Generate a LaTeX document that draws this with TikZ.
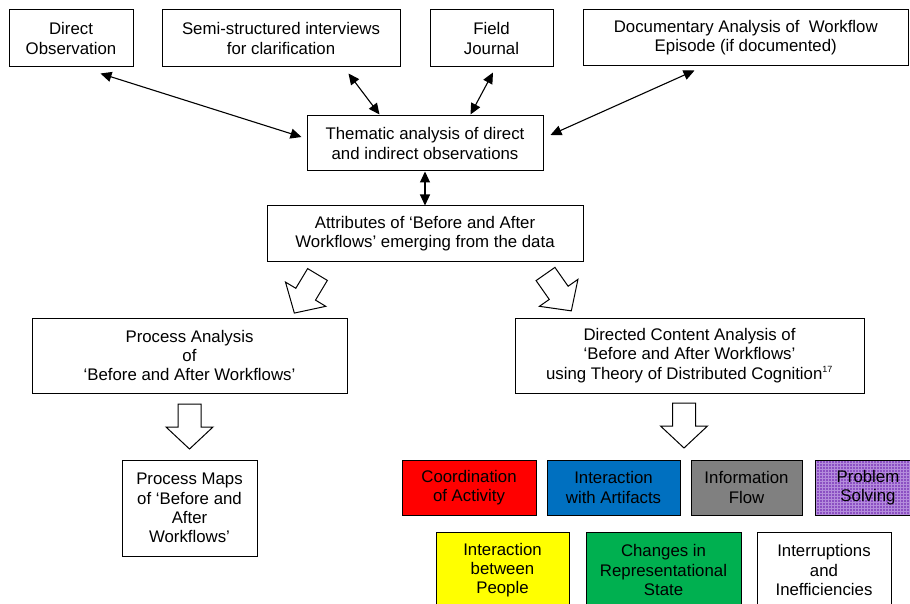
\documentclass[tikz,border=0pt]{standalone}
\usepackage{fontspec}
\setmainfont{Liberation Sans}
\usetikzlibrary{arrows.meta,calc,patterns}
\definecolor{cred}{RGB}{255,0,0}
\definecolor{cblue}{RGB}{0,112,192}
\definecolor{cgray}{RGB}{128,128,128}
\definecolor{cpurple}{RGB}{140,80,195}
\definecolor{cpgrid}{RGB}{180,140,220}
\definecolor{cyellow}{RGB}{255,255,0}
\definecolor{cgreen}{RGB}{0,176,80}
\newcommand\blockarr[2]{\begin{scope}[shift={#1},rotate=#2]\draw[barrow] (-11.5,0) -- (11.5,0) -- (11.5,23) -- (23.5,23) -- (0,45) -- (-23.5,23) -- (-11.5,23) -- cycle;\end{scope}}
\begin{document}
\begin{tikzpicture}[x=1pt,y=-1pt,font=\fontsize{16.8}{19.3}\selectfont,
  box/.style={draw=black, line width=1pt, align=center, inner sep=0pt, minimum height=55pt},
  dbl/.style={{Triangle[length=11pt,width=10pt]}-{Triangle[length=11pt,width=10pt]}, line width=1.1pt},
  barrow/.style={draw=black, line width=1pt, fill=white, line join=miter}]
\clip (0,0) rectangle (910,604);
\fill[white] (0,0) rectangle (910,604);
% top row
\node[box, minimum width=124, minimum height=57] (dobs) at (71,38.5) {Direct\\Observation};
\node[box, minimum width=238, minimum height=57] (semi) at (281,38.5) {Semi-structured interviews\\for clarification};
\node[box, minimum width=123, minimum height=57] (field) at (491.5,38.5) {Field\\Journal};
\node[box, minimum width=325.5, minimum height=56] (doc) at (745.75,38) {Documentary Analysis of\ \ Workflow\\Episode (if documented)};
% middle
\node[box, minimum width=236] (them) at (425,143.5) {Thematic analysis of direct\\and indirect observations};
\node[box, minimum width=316] (attr) at (425,233.5) {Attributes of ‘Before and After\\Workflows’ emerging from the data};
\node[box, minimum width=315, minimum height=75] (pa) at (189.5,355.5) {Process Analysis\\of\\‘Before and After Workflows’};
\node[box, minimum width=349, minimum height=75] (dca) at (689.5,355.5) {Directed Content Analysis of\\‘Before and After Workflows’\\using Theory of Distributed Cognition\textsuperscript{\fontsize{9}{10}\selectfont 17}};
\node[box, minimum width=135, minimum height=96] (pm) at (189.5,508) {Process Maps\\of ‘Before and\\After\\Workflows’};
% categories
\node[box, fill=cred, minimum width=134] (coord) at (469,487.5) {Coordination\\of Activity};
\node[box, fill=cblue, minimum width=133] (iart) at (613.5,487.5) {Interaction\\with Artifacts};
\node[box, fill=cgray, minimum width=111] (iflow) at (746.5,487.5) {Information\\Flow};
\node[box, preaction={fill=cpurple}, pattern=grid, pattern color=cpgrid, minimum width=106] (prob) at (868,487.5) {};
\node[align=center, inner sep=0pt] at (prob.center) {Problem\\Solving};
\node[box, fill=cyellow, minimum width=133, minimum height=76] (ibp) at (502.5,570) {Interaction\\between\\People};
\node[box, fill=cgreen, minimum width=155, minimum height=76] (chg) at (663.5,570) {Changes in\\Representational\\State};
\node[box, fill=white, minimum width=134, minimum height=76] (intr) at (824,570) {Interruptions\\and\\Inefficiencies};
% double arrows
\draw[dbl] ($(dobs.south east)+(-33,6)$) -- ($(them.west)+(-5,-6.5)$);
\draw[dbl] ($(semi.south east)+(-52,6)$) -- ($(them.north west)+(73,-1)$);
\draw[dbl] ($(field.south)+(1.5,5)$) -- ($(them.north east)+(-73,-1)$);
\draw[dbl] ($(doc.south west)+(112,4)$) -- ($(them.east)+(7,-8.5)$);
\draw[dbl] (them.south) -- (attr.north);
% block arrows
\blockarr{(317.5,274.5)}{-31}
\blockarr{(545.5,274)}{35}
\blockarr{(189.5,404)}{0}
\blockarr{(684,403)}{0}
\end{tikzpicture}
\end{document}
